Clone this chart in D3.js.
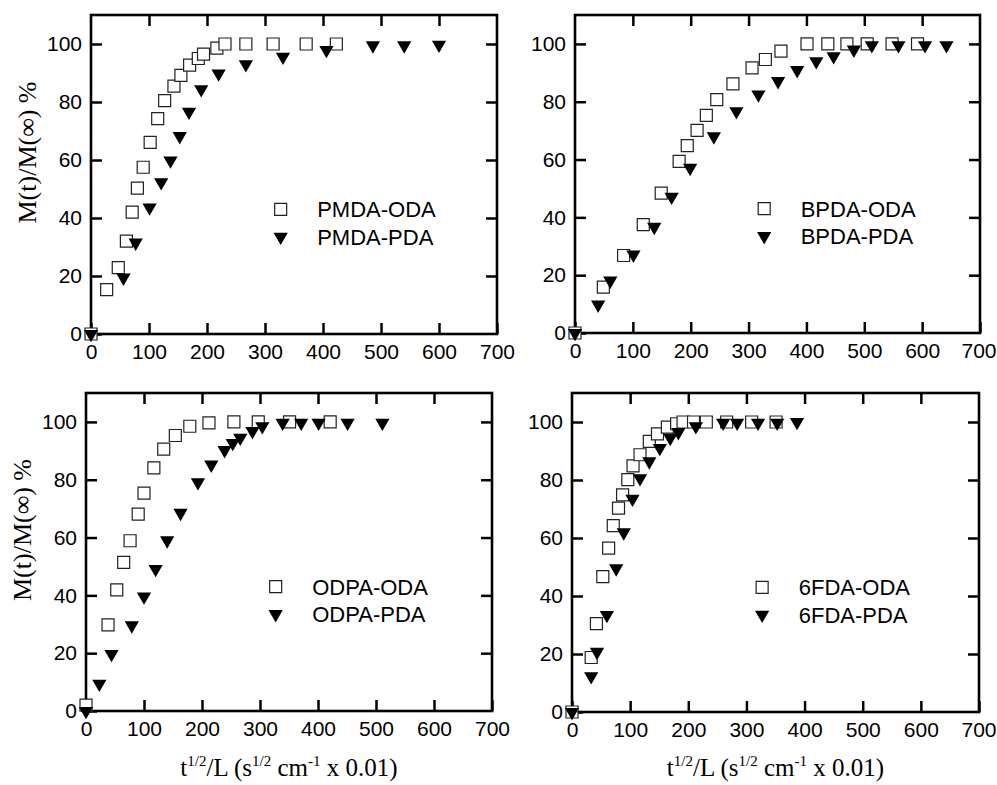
<!DOCTYPE html>
<html lang="en">
<head>
<meta charset="UTF-8">
<title>Sorption kinetics</title>
<script src="https://cdn.jsdelivr.net/npm/d3@7/dist/d3.min.js"></script>
<style>
  body { margin: 0; background: #fff; }
</style>
</head>
<body>
<script>

// tick values shared by all four panels
const xTicks = [0, 100, 200, 300, 400, 500, 600, 700];
const yTicks = [0, 20, 40, 60, 80, 100];

// [t^1/2/L, M(t)/M(inf) %]
const pmdaOda = [[0,0],[27,15.3],[47,22.9],[61,32],[71,42],[80,50.3],[90,57.5],[102,66.1],[115,74.3],[127,80.5],[143,85.5],[155,89.2],[170,92.7],[185,95],[194,96.5],[217,98.6],[231,100],[267,100],[314,100],[371,100],[423,100]];
const pmdaPda = [[0,0],[56,19.4],[77,31.5],[101,43.6],[121,52.3],[137,59.8],[153,68.2],[169,76.6],[190,84.4],[220,89.8],[267,93],[331,95.6],[406,97.9],[486,99.5],[540,99.5],[600,99.7]];

const bpdaOda = [[0,0],[49,15.9],[84,26.8],[118,37.5],[149,48.4],[180,59.4],[194,64.8],[211,70.1],[227,75.3],[245,80.7],[273,86.2],[306,91.7],[329,94.6],[356,97.5],[401,100],[437,100],[470,100],[505,100],[548,100],[592,100]];
const bpdaPda = [[0,0],[40,9.8],[61,18.1],[101,27.1],[137,36.7],[167,47.1],[199,57.1],[240,68],[279,76.7],[317,82.5],[351,87.1],[384,90.9],[417,94],[447,95.7],[482,98],[513,99.5],[559,99.5],[605,99.5],[642,99.5]];

const odpaOda = [[0,2],[38,29.8],[53,41.9],[65,51.4],[76,58.9],[90,68.1],[100,75.4],[117,84.1],[134,90.6],[154,95.3],[179,98.5],[212,99.7],[255,100],[297,100],[351,100],[421,100]];
const odpaPda = [[0,0],[23,9.4],[44,19.7],[79,29.6],[100,39.6],[120,49.1],[140,59],[163,68.5],[193,79.1],[216,85.2],[239,90.2],[253,92.7],[266,94.5],[287,96.8],[304,98.5],[339,99.7],[371,99.7],[401,99.7],[451,99.7],[511,99.7]];

const fdaOda = [[0,0],[33,18.8],[42,30.5],[53,46.7],[63,56.5],[71,64.3],[80,70.3],[87,74.9],[96,80.1],[105,84.9],[117,88.7],[133,93.3],[147,95.9],[164,98.2],[180,99.4],[191,100],[209,100],[231,100],[266,100],[309,100],[351,100]];
const fdaPda = [[0,0],[33,12.3],[43,20.7],[60,33.4],[76,49.5],[89,61.9],[104,73.5],[117,80.6],[133,86.4],[151,91],[169,94.5],[183,96.5],[213,98.5],[260,99.7],[284,99.7],[320,99.7],[353,99.7],[387,100]];

const panels = [
    {left: 91, right: 497, top: 15, bottom: 334, names: ["PMDA-ODA", "PMDA-PDA"], oda: pmdaOda, pda: pmdaPda, yTitle: true, xTitle: false},
    {left: 575, right: 980, top: 15, bottom: 333, names: ["BPDA-ODA", "BPDA-PDA"], oda: bpdaOda, pda: bpdaPda, yTitle: false, xTitle: false},
    {left: 86, right: 492, top: 393, bottom: 711, names: ["ODPA-ODA", "ODPA-PDA"], oda: odpaOda, pda: odpaPda, yTitle: true, xTitle: true},
    {left: 572, right: 979, top: 393, bottom: 712, names: ["6FDA-ODA", "6FDA-PDA"], oda: fdaOda, pda: fdaPda, yTitle: false, xTitle: true}
];

const W = 997, H = 785;
const tickFont = "'Liberation Sans', Arial, sans-serif";
const titleFont = "'Liberation Serif', 'Times New Roman', serif";

const svg = d3.select("body").append("svg").attr("width", W).attr("height", H);

const square = d3.symbol(d3.symbolSquare, 144)();
const triangle = d3.symbol(d3.symbolTriangle, 88)();

panels.forEach(p => {
    const x = d3.scaleLinear().domain([0, 700]).range([p.left, p.right]);
    const y = d3.scaleLinear().domain([0, 110]).range([p.bottom, p.top]);
    const g = svg.append("g");

    const styleAxis = a => {
        a.select(".domain").remove();
        a.selectAll(".tick line").attr("stroke", "#000").attr("stroke-width", 2.5);
        a.selectAll(".tick text").attr("fill", "#000").style("font-family", tickFont).style("font-size", "21px");
    };

    const xAxis = g.append("g").attr("transform", `translate(0,${p.bottom})`)
        .call(d3.axisBottom(x).tickValues(xTicks).tickSize(-11).tickPadding(10))
        .call(styleAxis);
    // keep the "700" label inside the page on the right-hand panels
    xAxis.selectAll(".tick text").each(function (d) {
        const half = this.getComputedTextLength() / 2;
        const over = x(d) + half - (W - 1);
        if (over > 0) d3.select(this).attr("dx", -over);
    });
    g.append("g").attr("transform", `translate(0,${p.top})`)
        .call(d3.axisTop(x).tickValues(xTicks.slice(1, -1)).tickSize(-11).tickFormat(""))
        .call(styleAxis);
    g.append("g").attr("transform", `translate(${p.left},0)`)
        .call(d3.axisLeft(y).tickValues(yTicks).tickSize(-11).tickPadding(9))
        .call(styleAxis);
    g.append("g").attr("transform", `translate(${p.right},0)`)
        .call(d3.axisRight(y).tickValues(yTicks.slice(1)).tickSize(-11).tickFormat(""))
        .call(styleAxis);

    g.append("rect")
        .attr("x", p.left).attr("y", p.top)
        .attr("width", p.right - p.left).attr("height", p.bottom - p.top)
        .attr("fill", "none").attr("stroke", "#000").attr("stroke-width", 2.6);

    g.append("g").selectAll("path").data(p.oda).join("path")
        .attr("d", square)
        .attr("transform", d => `translate(${x(d[0])},${y(d[1])})`)
        .attr("fill", "#fff").attr("stroke", "#222").attr("stroke-width", 1.2);

    g.append("g").selectAll("path").data(p.pda).join("path")
        .attr("d", triangle)
        .attr("transform", d => `translate(${x(d[0])},${y(d[1])}) rotate(180)`)
        .attr("fill", "#000");

    // legend
    const lg = g.append("g");
    lg.append("path").attr("d", square)
        .attr("transform", `translate(${x(327)},${y(43)})`)
        .attr("fill", "#fff").attr("stroke", "#222").attr("stroke-width", 1.2);
    lg.append("path").attr("d", triangle)
        .attr("transform", `translate(${x(327)},${y(33.5)}) rotate(180)`)
        .attr("fill", "#000");
    lg.selectAll("text").data(p.names).join("text")
        .attr("x", x(390))
        .attr("y", (d, i) => y(i ? 33.5 : 43))
        .attr("dy", "0.36em")
        .style("font-family", tickFont).style("font-size", "22px")
        .text(d => d);

    if (p.yTitle) {
        g.append("text")
            .attr("transform", `translate(${p.left - 55},${(p.top + p.bottom) / 2 - 22}) rotate(-90)`)
            .attr("text-anchor", "middle")
            .style("font-family", titleFont).style("font-size", "26px")
            .text("M(t)/M(\u221E) %");
    }

    if (p.xTitle) {
        const t = g.append("text")
            .attr("x", (p.left + p.right) / 2).attr("y", 776)
            .attr("text-anchor", "middle")
            .style("font-family", titleFont).style("font-size", "25px");
        const parts = [["t", 0], ["1/2", 1], ["/L (s", 0], ["1/2", 1], [" cm", 0], ["-1", 1], [" x 0.01)", 0]];
        let prev = 0;
        parts.forEach(([s, sup]) => {
            t.append("tspan")
                .attr("dy", sup - prev ? (sup ? -10 : 10) : 0)
                .style("font-size", sup ? "15px" : null)
                .text(s);
            prev = sup;
        });
    }
});

</script>
</body>
</html>
